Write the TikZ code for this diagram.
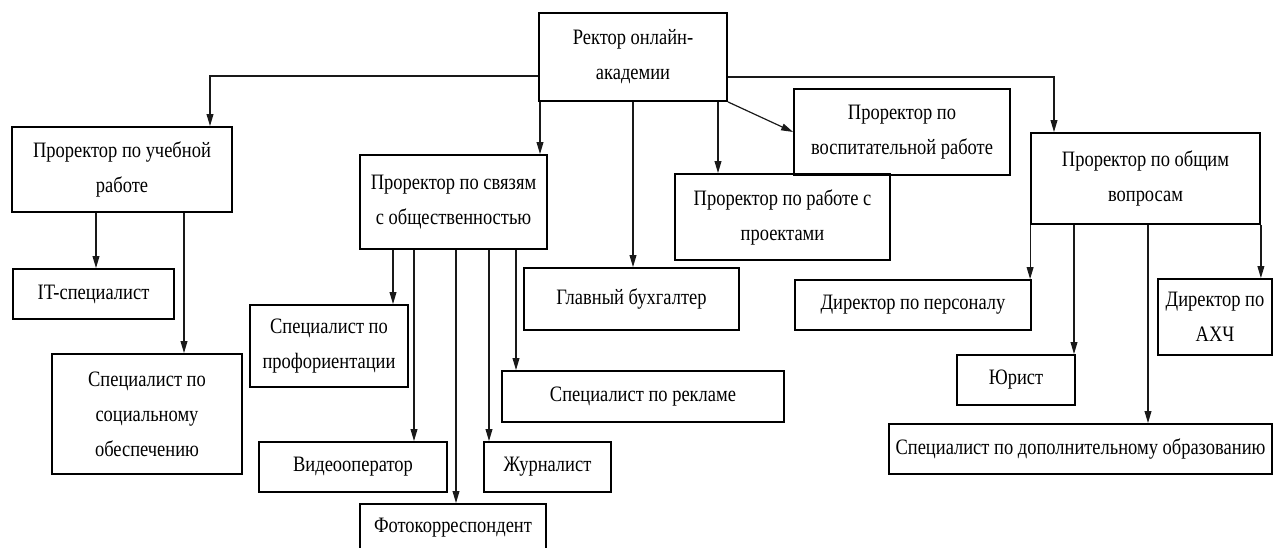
\documentclass[tikz,border=0pt]{standalone}
\usepackage{fontspec}
\setmainfont{Liberation Serif}[FakeStretch=0.84]
\usetikzlibrary{arrows.meta}

\begin{document}
\begin{tikzpicture}[x=0.5pt, y=-0.5pt,
    box/.style={draw, line width=0.9pt, inner sep=1pt, align=center,
        font=\fontsize{11}{17.5}\selectfont},
    arr/.style={draw=black!90, line width=0.6pt, -{Triangle[length=6pt,width=3.4pt]}}]
    \useasboundingbox (0,0) rectangle (1274,547);

    % rector and prorectors
    \node[box, minimum width=94pt, minimum height=44pt] (rektor) at (633,57) {Ректор онлайн-\\академии};
    \node[box, minimum width=110pt, minimum height=42.5pt] (ucheb) at (122,169.5) {Проректор по учебной\\работе};
    \node[box, minimum width=93.5pt, minimum height=47pt] (svyaz) at (453.5,202) {Проректор по связям\\с общественностью};
    \node[box, minimum width=107.5pt, minimum height=31pt] (buh) at (631.5,299) {Главный бухгалтер};
    \node[box, minimum width=107.5pt, minimum height=43pt] (proekt) at (782.5,217) {Проректор по работе с\\проектами};
    \node[box, minimum width=108pt, minimum height=43pt] (vospit) at (902,132) {Проректор по\\воспитательной работе};
    \node[box, minimum width=114.5pt, minimum height=45.5pt] (obsh) at (1145.5,178.5) {Проректор по общим\\вопросам};

    % staff
    \node[box, minimum width=80.5pt, minimum height=25pt] (it) at (93.5,294) {IT-специалист};
    \node[box, minimum width=95pt, minimum height=60pt] (soc) at (147,414) {Специалист по\\социальному\\обеспечению};
    \node[box, minimum width=79pt, minimum height=41pt] (proforient) at (329,346) {Специалист по\\профориентации};
    \node[box, minimum width=94pt, minimum height=25pt] (video) at (353,467) {Видеооператор};
    \node[box, minimum width=93pt, minimum height=24pt] (foto) at (453,528) {Фотокорреспондент};
    \node[box, minimum width=63.5pt, minimum height=25pt] (zhurn) at (547.5,467) {Журналист};
    \node[box, minimum width=141pt, minimum height=25.5pt] (reklama) at (643,396.5) {Специалист по рекламе};
    \node[box, minimum width=118pt, minimum height=25pt] (personal) at (913,305) {Директор по персоналу};
    \node[box, minimum width=59pt, minimum height=25pt] (yurist) at (1016,380) {Юрист};
    \node[box, minimum width=57pt, minimum height=38pt] (ahch) at (1215,317) {Директор по\\АХЧ};
    \node[box, minimum width=191.5pt, minimum height=25pt] (dop) at (1080.5,449) {Специалист по дополнительному образованию};

    % from the rector
    \draw[arr] ([yshift=-9.5pt]rektor.west) -| ([xshift=44pt]ucheb.north);
    \draw[arr] ([xshift=-46.5pt]rektor.south) coordinate (r1) -- (r1 |- svyaz.north);
    \draw[arr] (rektor.south) -- (rektor.south |- buh.north);
    \draw[arr] ([xshift=42.5pt]rektor.south) coordinate (r2) -- (r2 |- proekt.north);
    \draw[arr] (rektor.south east) -- (vospit.west);
    \draw[arr] ([yshift=-10pt]rektor.east) -| ([xshift=-45.75pt]obsh.north);

    % uchebnaya rabota
    \draw[arr] ([xshift=-13pt]ucheb.south) coordinate (u1) -- (u1 |- it.north);
    \draw[arr] ([xshift=31pt]ucheb.south) coordinate (u2) -- (u2 |- soc.north);

    % svyazi s obshchestvennostyu
    \draw[arr] ([xshift=-30.25pt]svyaz.south) coordinate (s1) -- (s1 |- proforient.north);
    \draw[arr] ([xshift=-19.75pt]svyaz.south) coordinate (s2) -- (s2 |- video.north);
    \draw[arr] ([xshift=1.25pt]svyaz.south) coordinate (s3) -- (s3 |- foto.north);
    \draw[arr] ([xshift=17.75pt]svyaz.south) coordinate (s4) -- (s4 |- zhurn.north);
    \draw[arr] ([xshift=31.25pt]svyaz.south) coordinate (s5) -- (s5 |- reklama.north);

    % obshchie voprosy
    \draw[arr] (obsh.south west) -- (obsh.south west |- personal.north);
    \draw[arr] ([xshift=-35.75pt]obsh.south) coordinate (o1) -- (o1 |- yurist.north);
    \draw[arr] ([xshift=1.25pt]obsh.south) coordinate (o2) -- (o2 |- dop.north);
    \draw[arr] (obsh.south east) -- (obsh.south east |- ahch.north);

\end{tikzpicture}
\end{document}
